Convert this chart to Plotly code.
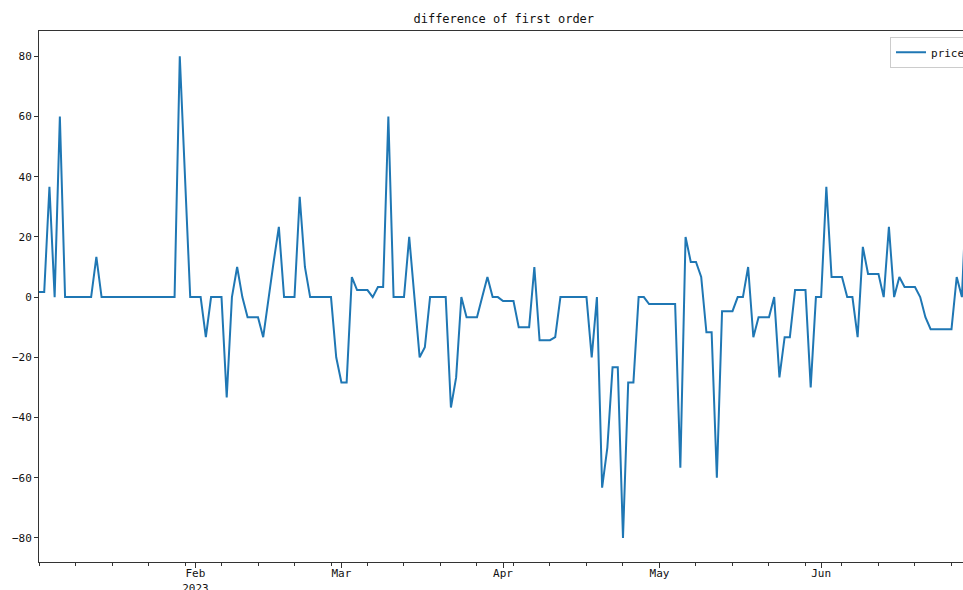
import pandas as pd
import plotly.graph_objects as go

start_date = "2023-01-02"
price_diff = [
    1.67, 1.67, 36.67, 0, 60, 0, 0, 0, 0, 0,
    0, 13.33, 0, 0, 0, 0, 0, 0, 0, 0,
    0, 0, 0, 0, 0, 0, 0, 80, 40, 0,
    0, 0, -13.33, 0, 0, 0, -33.33, 0, 10, 0,
    -6.67, -6.67, -6.67, -13.33, 0, 11.67, 23.33, 0, 0, 0,
    33.33, 10, 0, 0, 0, 0, 0, -20, -28.33, -28.33,
    6.67, 2.33, 2.33, 2.33, 0, 3.33, 3.33, 60, 0, 0,
    0, 20, 0, -20, -16.67, 0, 0, 0, 0, -36.67,
    -26.67, 0, -6.67, -6.67, -6.67, 0, 6.67, 0, 0, -1.33,
    -1.33, -1.33, -10, -10, -10, 10, -14.33, -14.33, -14.33, -13.33,
    0, 0, 0, 0, 0, 0, -20, 0, -63.33, -50,
    -23.33, -23.33, -80, -28.33, -28.33, 0, 0, -2.33, -2.33, -2.33,
    -2.33, -2.33, -2.33, -56.67, 20, 11.67, 11.67, 6.67, -11.67, -11.67,
    -60, -4.67, -4.67, -4.67, 0, 0, 10, -13.33, -6.67, -6.67,
    -6.67, 0, -26.67, -13.33, -13.33, 2.33, 2.33, 2.33, -30, 0,
    0, 36.67, 6.67, 6.67, 6.67, 0, 0, -13.33, 16.67, 7.67,
    7.67, 7.67, 0, 23.33, 0, 6.67, 3.33, 3.33, 3.33, 0,
    -6.67, -10.67, -10.67, -10.67, -10.67, -10.67, 6.67, 0, 40,
]
dates = pd.date_range(start_date, periods=len(price_diff), freq="D")

month_ticks = ["2023-02-01", "2023-03-01", "2023-04-01", "2023-05-01", "2023-06-01"]
month_labels = ["Feb<br>2023", "Mar", "Apr", "May", "Jun"]
y_ticks = [-80, -60, -40, -20, 0, 20, 40, 60, 80]

FONT = "DejaVu Sans Mono"

fig = go.Figure()
fig.add_trace(go.Scatter(
    x=dates, y=price_diff, mode="lines", name="price",
    line=dict(color="#1f77b4", width=2),
))

fig.update_layout(
    width=963, height=590,
    margin=dict(l=39, r=0, t=31, b=28, autoexpand=False),
    paper_bgcolor="white", plot_bgcolor="white",
    font=dict(family=FONT, size=11, color="#111"),
    title=dict(text="difference of first order", x=0.503, xref="paper",
               xanchor="center", y=0.968, yanchor="middle",
               font=dict(family=FONT, size=12, color="#111")),
    showlegend=True,
    legend=dict(x=0.921, y=0.989, xanchor="left", yanchor="top",
                bgcolor="rgba(255,255,255,0.8)", bordercolor="#cccccc",
                borderwidth=1, font=dict(family=FONT, size=11),
                itemwidth=30),
)

fig.update_xaxes(
    automargin=False,
    range=[pd.Timestamp(start_date), pd.Timestamp("2023-06-28 05:00")],
    tickmode="array", tickvals=month_ticks, ticktext=month_labels,
    ticks="outside", ticklen=5, tickwidth=1, tickcolor="#333",
    ticklabelstandoff=-4,
    showline=True, linecolor="#333", linewidth=1, mirror=True,
    showgrid=False, zeroline=False,
    minor=dict(ticks="outside", ticklen=3, tickcolor="#333",
               tick0="2023-01-02", dtick=7 * 86400000, showgrid=False),
)
fig.update_yaxes(
    automargin=False,
    range=[-88, 88.4],
    tickmode="array", tickvals=y_ticks,
    ticks="outside", ticklen=4, tickwidth=1, tickcolor="#333",
    showline=True, linecolor="#333", linewidth=1,
    showgrid=False, zeroline=False,
)

fig.write_html(
    "out.html",
    config={"displayModeBar": False},
    post_script="document.body.style.margin='0';document.body.style.overflow='hidden';",
)
